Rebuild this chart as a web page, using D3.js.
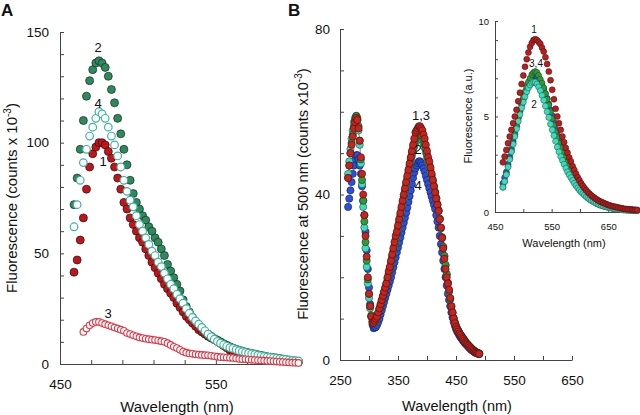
<!DOCTYPE html>
<html>
<head>
<meta charset="utf-8">
<script src="https://cdn.jsdelivr.net/npm/d3@7"></script>
<style>
  body { margin: 0; background: #fff; }
  svg text { font-family: Arial, "Liberation Sans", sans-serif; fill: #111; }
</style>
</head>
<body>
<div id="chart"></div>
<script>
// ---- panel A: emission, 459-603 nm every 2 nm
const waveA = d3.range(459, 604, 2);
const aGreen = [72, 84, 97, 110, 121, 128, 133, 136, 137, 136,
  134, 130, 124, 118, 111, 104, 97, 90, 83, 77,
  73, 70, 67, 65, 62, 60, 57, 55, 52, 49,
  45, 42, 39, 36, 33, 29, 26, 23.5, 21, 19,
  17.5, 16, 14.5, 13.5, 12.5, 11.5, 10.8, 10, 9.2, 8.5,
  7.8, 7.2, 6.7, 6.2, 5.8, 5.4, 5.1, 4.8, 4.5, 4.2,
  3.9, 3.6, 3.3, 3.1, 2.9, 2.7, 2.5, 2.2, 2, 1.7,
  1.5, 1.3, 1.1];
const aTeal = [62, 72, 83, 91, 97, 103, 107, 111, 114, 113,
  111, 107, 103, 99, 94, 89, 83, 78, 74, 71,
  67, 63, 60, 57, 54, 51, 49, 46, 44, 41,
  38.5, 36, 34, 31.5, 29.5, 27.5, 25, 23, 21, 19.5,
  18, 16.5, 15, 13.5, 12.3, 11.2, 10.2, 9.4, 8.7, 8,
  7.4, 7, 6.5, 6, 5.6, 5.2, 4.9, 4.6, 4.3, 4,
  3.7, 3.4, 3.2, 3, 2.8, 2.6, 2.4, 2.2, 2, 1.8,
  1.6, 1.5, 1.4];
const aRed = [41.5, 47, 56, 66, 79, 89, 95, 98, 100, 100,
  99, 96, 93, 89, 84, 79, 73, 70, 66, 63,
  60, 57, 55, 52, 49, 46, 43.5, 41, 38.5, 36,
  34, 32, 30, 27.5, 25.5, 23.5, 21.5, 20, 18.5, 17,
  15.5, 14.5, 13.5, 12.5, 11.7, 11, 10.2, 9.3, 8.3, 7.3,
  6.2, 5.3, 4.7, 4.2, 3.9, 3.6, 3.3, 3, 2.8, 2.6,
  2.4, 2.2, 2, 1.9, 1.8, 1.6, 1.5, 1.4, 1.3, 1.2,
  1.1, 1, 0.9];
const aOpenRed = [null, null, null, 14.5, 16, 17.5, 18.5, 19, 19, 18.5,
  18, 17.5, 17, 16.5, 16, 15.5, 15, 14, 13.5, 13,
  12.5, 12, 11.7, 11.4, 11.2, 11, 10.8, 10.6, 10.3, 10,
  9.4, 8.6, 7.8, 7.2, 6.4, 5.6, 5.1, 4.8, 4.6, 4.4,
  4.2, 4.1, 4, 3.9, 3.7, 3.5, 3.3, 3.1, 3, 2.9,
  2.8, 2.7, 2.5, 2.3, 2.2, 2.1, 2, 1.9, 1.8, 1.7,
  1.6, 1.5, 1.4, 1.3, 1.2, 1.1, 1, 0.9, 0.8, 0.7,
  0.6, 0.6, 0.5];
const labelsA = [["2", 474.4, 142.8], ["4", 474.4, 117.9], ["1", 477.6, 91.3], ["3", 480.8, 23]];

// ---- panel B: excitation, 264-490 nm every 2 nm
const waveB = d3.range(264, 491, 2);
const bRed = [44, 47, 50, 52, 54, 56, 57.5, 58.5, 58, 56,
  53, 49, 45, 40, 35, 30, 25, 20, 16, 13,
  10.5, 9, 9, 9.5, 10, 10.5, 11.5, 12.5, 13.5, 14.5,
  15.5, 16.5, 17.5, 18.5, 20, 21.5, 22.5, 24, 25.5, 27,
  28.5, 30, 31, 32.5, 34, 35.5, 37, 38.5, 40, 41.5,
  43, 44.5, 46, 47.5, 49, 50.5, 52, 53.5, 55, 55.5,
  56, 56.5, 56.5, 56, 55.5, 54.5, 53.5, 52, 50.5, 49,
  48, 46.5, 45, 43.5, 42, 40.5, 39, 37.5, 36, 34,
  32, 29.5, 27, 24.5, 22, 20, 18.5, 17, 15, 13,
  11.5, 10, 8.9, 8, 7.4, 6.9, 6.4, 6, 5.5, 5.1,
  4.7, 4.3, 4, 3.7, 3.4, 3.1, 2.8, 2.5, 2.2, 2,
  1.8, 1.7, 1.6, 1.5];
const bCyan = [45, 48, 51, 53.5, 55.5, 57.5, 58.5, 59, 58, 55.5,
  52, 47.5, 42.5, 37, 32, 27, 22.5, 18.5, 15, 12.5,
  10.5, 9.2, 8.8, 9, 9.6, 10.3, 11.2, 12.2, 13.2, 14.2,
  15.2, 16.2, 17.2, 18.3, 19.5, 20.8, 22, 23.3, 24.7, 26,
  27.3, 28.7, 30, 31.5, 33, 34.5, 36, 37.5, 39, 40.5,
  42, 43.5, 45, 46.5, 48, 49.3, 50.5, 51.5, 52.5, 53.2,
  53.6, 53.8, 53.8, 53.5, 53, 52.2, 51.3, 50.2, 49, 47.8,
  46.6, 45.4, 44.2, 43, 41.7, 40.4, 39, 37.5, 36, 34,
  31.8, 29.5, 27.2, 25, 22.8, 20.6, 18.5, 16.5, 14.6, 12.8,
  11.3, 10, 9, 8.2, 7.5, 7, 6.5, 6, 5.6, 5.2,
  4.8, 4.4, 4, 3.7, 3.4, 3.1, 2.8, 2.5, 2.3, 2.1,
  1.9, 1.7, 1.6, 1.5];
const bGreen = [44, 47, 50, 52.5, 54.5, 56.5, 58, 59, 58.5, 56.5,
  53, 48.5, 43.5, 38.5, 33.5, 28.5, 24, 19.5, 16, 13,
  10.8, 9.4, 9, 9.2, 9.8, 10.5, 11.4, 12.4, 13.4, 14.4,
  15.4, 16.4, 17.4, 18.5, 19.8, 21, 22.3, 23.6, 25, 26.4,
  27.8, 29.2, 30.5, 32, 33.5, 35, 36.5, 38, 39.5, 41,
  42.5, 44, 45.5, 47, 48.5, 50, 51.3, 52.5, 53.5, 54.3,
  54.8, 55, 55, 54.6, 54, 53.2, 52.2, 51, 49.7, 48.4,
  47.2, 46, 44.7, 43.4, 42, 40.6, 39.2, 37.7, 36.2, 34.2,
  32, 29.7, 27.4, 25.2, 23, 20.8, 18.7, 16.7, 14.8, 13,
  11.5, 10.2, 9.1, 8.3, 7.6, 7.1, 6.6, 6.1, 5.7, 5.3,
  4.9, 4.5, 4.1, 3.8, 3.5, 3.2, 2.9, 2.6, 2.4, 2.2,
  2, 1.8, 1.7, 1.6];
const bBlue = [37, 39, 41, 43, 45, 47, 48.5, 49.5, 49.5, 48.5,
  47, 45, 42, 38.5, 35, 31, 26.5, 22, 17.5, 13.5,
  10.5, 8.5, 7.7, 7.8, 8, 8.5, 9.2, 10, 11, 12,
  13, 14, 15, 16, 17, 18, 19, 20, 21.2, 22.4,
  23.6, 24.8, 26, 27.2, 28.4, 29.6, 30.8, 32, 33.2, 34.4,
  35.6, 36.8, 38.2, 39.6, 41, 42.5, 44, 45.3, 46.3, 47,
  47.6, 48, 48, 47.6, 47, 46.3, 45.5, 44.5, 43.5, 42.5,
  41.5, 40.5, 39.5, 38.5, 37.5, 36.5, 35, 33.5, 32, 30,
  28, 26, 24, 22, 20, 18, 16, 14.5, 13, 11.5,
  10.3, 9.2, 8.3, 7.5, 6.9, 6.4, 5.9, 5.5, 5.1, 4.7,
  4.3, 4, 3.7, 3.4, 3.1, 2.8, 2.5, 2.3, 2.1, 1.9,
  1.7, 1.6, 1.5, 1.4];
const labelsB = [["1,3", 389.7, 59.2], ["2", 384.5, 50.8], ["4", 384.5, 42.3]];

// ---- inset: emission, 464-701 nm every 3 nm
const waveI = d3.range(464, 702, 3);
const iRed = [2.6, 2.9, 3.25, 3.6, 3.95, 4.3, 4.65, 5, 5.35, 5.8,
  6.25, 6.7, 7.15, 7.6, 8, 8.35, 8.65, 8.85, 9, 9.05,
  9, 8.9, 8.8, 8.6, 8.4, 8.1, 7.75, 7.35, 6.9, 6.4,
  5.9, 5.4, 5, 4.65, 4.3, 3.95, 3.65, 3.35, 3.1, 2.85,
  2.65, 2.4, 2.2, 2, 1.82, 1.66, 1.5, 1.37, 1.25, 1.14,
  1.04, 0.95, 0.87, 0.8, 0.73, 0.67, 0.61, 0.56, 0.52, 0.48,
  0.44, 0.4, 0.37, 0.34, 0.31, 0.29, 0.27, 0.25, 0.23, 0.21,
  0.19, 0.17, 0.16, 0.15, 0.14, 0.13, 0.12, 0.11, 0.1, 0.1];
const iGreen = [1.3, 1.6, 2, 2.4, 2.8, 3.2, 3.6, 4.05, 4.5, 4.95,
  5.35, 5.7, 6, 6.3, 6.55, 6.8, 7, 7.2, 7.3, 7.35,
  7.3, 7.15, 6.95, 6.75, 6.5, 6.2, 5.9, 5.6, 5.25, 4.9,
  4.55, 4.2, 3.9, 3.6, 3.35, 3.1, 2.85, 2.6, 2.4, 2.2,
  2, 1.8, 1.65, 1.5, 1.35, 1.22, 1.1, 1, 0.91, 0.83,
  0.75, 0.68, 0.62, 0.56, 0.51, 0.46, 0.42, 0.38, 0.35, 0.32,
  0.29, 0.27, 0.25, 0.23, 0.21, 0.19, 0.18, 0.16, 0.15, 0.14,
  0.13, 0.12, 0.11, 0.1, 0.1, 0.09, 0.09, 0.08, 0.08, 0.07];
const iCyan = [1.3, 1.6, 1.95, 2.35, 2.75, 3.15, 3.55, 3.95, 4.35, 4.75,
  5.1, 5.45, 5.75, 6.05, 6.3, 6.5, 6.65, 6.75, 6.8, 6.8,
  6.7, 6.55, 6.35, 6.1, 5.85, 5.55, 5.25, 4.95, 4.6, 4.3,
  4, 3.7, 3.4, 3.15, 2.9, 2.7, 2.5, 2.3, 2.1, 1.95,
  1.8, 1.65, 1.5, 1.38, 1.26, 1.15, 1.05, 0.96, 0.88, 0.8,
  0.73, 0.66, 0.6, 0.55, 0.5, 0.45, 0.41, 0.37, 0.34, 0.31,
  0.28, 0.26, 0.24, 0.22, 0.2, 0.18, 0.17, 0.15, 0.14, 0.13,
  0.12, 0.11, 0.1, 0.1, 0.09, 0.09, 0.08, 0.08, 0.07, 0.07];
const iBlue = [1.5, 1.8, 2.1, 2.5, 2.9, 3.3, 3.7, 4.1, 4.5, 4.9,
  5.25, 5.6, 5.9, 6.2, 6.45, 6.7, 6.9, 7.05, 7.1, 7.1,
  7.05, 6.95, 6.8, 6.65, 6.45, 6.2, 5.95, 5.65, 5.35, 5.05,
  4.7, 4.35, 4.05, 3.75, 3.45, 3.2, 2.95, 2.7, 2.5, 2.3,
  2.1, 1.9, 1.75, 1.6, 1.45, 1.32, 1.2, 1.1, 1, 0.92,
  0.84, 0.77, 0.7, 0.64, 0.58, 0.53, 0.48, 0.44, 0.4, 0.37,
  0.34, 0.31, 0.28, 0.26, 0.24, 0.22, 0.2, 0.19, 0.18, 0.17,
  0.16, 0.15, 0.14, 0.13, 0.13, 0.12, 0.12, 0.11, 0.11, 0.1];
const labelsI = [["1", 518.9, 9.58], ["3,4", 522.4, 7.75], ["2", 518.9, 5.65]];

const width = 640, height = 415;
const svg = d3.select("#chart").append("svg")
  .attr("width", width)
  .attr("height", height);

function addAxes(x, y, o) {
  const xg = svg.append("g")
    .attr("transform", `translate(0,${y.range()[0]})`)
    .call(d3.axisBottom(x).tickValues(o.xTicks)
      .tickFormat(d => o.xLabels.includes(d) ? d : "")
      .tickSize(-o.tick).tickSizeOuter(0).tickPadding(o.xPad));
  const yg = svg.append("g")
    .attr("transform", `translate(${x.range()[0]},0)`)
    .call(d3.axisLeft(y).tickValues(o.yTicks)
      .tickFormat(d => o.yLabels.includes(d) ? d : "")
      .tickSize(-o.tick).tickSizeOuter(0).tickPadding(o.yPad));
  [xg, yg].forEach(g => g.attr("color", "#444").attr("font-size", o.font)
    .attr("font-family", null));
}

function drawSeries(x, y, waves, vals, st) {
  const pts = waves.map((w, i) => ({ w, v: vals[i] })).filter(d => d.v != null);
  svg.append("g").selectAll("circle")
    .data(pts)
    .enter()
    .append("circle")
    .attr("cx", d => x(d.w))
    .attr("cy", d => y(d.v))
    .attr("r", st.r)
    .attr("fill", st.fill)
    .attr("stroke", st.stroke)
    .attr("stroke-width", st.sw);
}

function drawLine(x, y, waves, vals) {
  svg.append("path")
    .datum(waves.map((w, i) => ({ w, v: vals[i] })))
    .attr("fill", "none")
    .attr("stroke", "#999")
    .attr("stroke-width", 0.6)
    .attr("d", d3.line().x(d => x(d.w)).y(d => y(d.v)));
}

function addLabels(x, y, list, size) {
  list.forEach(([t, w, v]) => {
    svg.append("text")
      .attr("x", x(w)).attr("y", y(v))
      .attr("dy", "0.35em")
      .attr("text-anchor", "middle")
      .attr("font-size", size)
      .text(t);
  });
}

function yTitle(px, py, size, main, sup, supSize) {
  const t = svg.append("text")
    .attr("transform", `translate(${px},${py}) rotate(-90)`)
    .attr("text-anchor", "middle")
    .attr("font-size", size);
  t.append("tspan").text(main);
  if (sup) {
    t.append("tspan").attr("dy", -6).attr("font-size", supSize).text(sup);
    t.append("tspan").attr("dy", 6).text(")");
  }
}

// panel A
const xA = d3.scaleLinear().domain([450, 604]).range([60, 300]);
const yA = d3.scaleLinear().domain([0, 150]).range([364, 32]);
addAxes(xA, yA, {
  xTicks: d3.range(450, 600, 20), xLabels: [450, 550],
  yTicks: d3.range(0, 151, 10), yLabels: [0, 50, 100, 150],
  tick: 4, xPad: 15, yPad: 11, font: 13.5
});
// green under, then red, teal rings on top
drawSeries(xA, yA, waveA, aGreen, { r: 4, fill: "#2c8a5e", stroke: "#1c2a22", sw: 0.7 });
drawSeries(xA, yA, waveA, aRed, { r: 4, fill: "#c0161b", stroke: "#2a1010", sw: 0.7 });
drawSeries(xA, yA, waveA, aTeal, { r: 3.8, fill: "#fff", stroke: "#3db59d", sw: 1.2 });
drawSeries(xA, yA, waveA, aOpenRed, { r: 3.3, fill: "#fff", stroke: "#de3846", sw: 1.1 });
addLabels(xA, yA, labelsA, 13);
svg.append("text").attr("x", 177).attr("y", 412).attr("text-anchor", "middle")
  .attr("font-size", 15).text("Wavelength (nm)");
yTitle(17, 198, 15, "Fluorescence (counts x 10", "-3", 10);
svg.append("text").attr("x", 1).attr("y", 16).attr("font-size", 17)
  .attr("font-weight", "bold").text("A");

// panel B
const xB = d3.scaleLinear().domain([250, 650]).range([340, 572]);
const yB = d3.scaleLinear().domain([0, 80]).range([360, 29]);
addAxes(xB, yB, {
  xTicks: d3.range(250, 651, 50), xLabels: [250, 350, 450, 550, 650],
  yTicks: d3.range(0, 81, 10), yLabels: [0, 40, 80],
  tick: 4, xPad: 15, yPad: 10, font: 13.5
});
[bBlue, bCyan, bGreen, bRed].forEach(v => drawLine(xB, yB, waveB, v));
drawSeries(xB, yB, waveB, bBlue, { r: 3.6, fill: "#2b4fe3", stroke: "#1a1f40", sw: 0.6 });
drawSeries(xB, yB, waveB, bCyan, { r: 3.6, fill: "#3fdcbc", stroke: "#1d4a40", sw: 0.6 });
drawSeries(xB, yB, waveB, bGreen, { r: 3.6, fill: "#2f9a3a", stroke: "#1a3a1e", sw: 0.6 });
drawSeries(xB, yB, waveB, bRed, { r: 3.6, fill: "#c8231f", stroke: "#3a1010", sw: 0.6 });
addLabels(xB, yB, labelsB, 13);
svg.append("text").attr("x", 457).attr("y", 411).attr("text-anchor", "middle")
  .attr("font-size", 14.5).text("Wavelength (nm)");
yTitle(308, 194, 14.7, "Fluorescence at 500 nm (counts x10", "-3", 10);
svg.append("text").attr("x", 288).attr("y", 16).attr("font-size", 17)
  .attr("font-weight", "bold").text("B");

// inset
const xI = d3.scaleLinear().domain([450, 706]).range([495, 640]);
const yI = d3.scaleLinear().domain([0, 10]).range([212, 21]);
addAxes(xI, yI, {
  xTicks: d3.range(450, 701, 50), xLabels: [450, 550, 650],
  yTicks: d3.range(0, 11, 1), yLabels: [0, 5, 10],
  tick: 3, xPad: 11, yPad: 6, font: 9.5
});
drawSeries(xI, yI, waveI, iBlue, { r: 3, fill: "#2f55e6", stroke: "#1a2040", sw: 0.5 });
drawSeries(xI, yI, waveI, iGreen, { r: 3, fill: "#2f9a3a", stroke: "#1a3a1e", sw: 0.5 });
drawSeries(xI, yI, waveI, iCyan, { r: 3, fill: "#3fdcbc", stroke: "#1d4a40", sw: 0.5 });
drawSeries(xI, yI, waveI, iRed, { r: 3, fill: "#b81e1e", stroke: "#3a1010", sw: 0.5 });
addLabels(xI, yI, labelsI, 10);
svg.append("text").attr("x", 564).attr("y", 247).attr("text-anchor", "middle")
  .attr("font-size", 11).text("Wavelength (nm)");
yTitle(472, 116, 11, "Fluorescence (a.u.)");
</script>
</body>
</html>
